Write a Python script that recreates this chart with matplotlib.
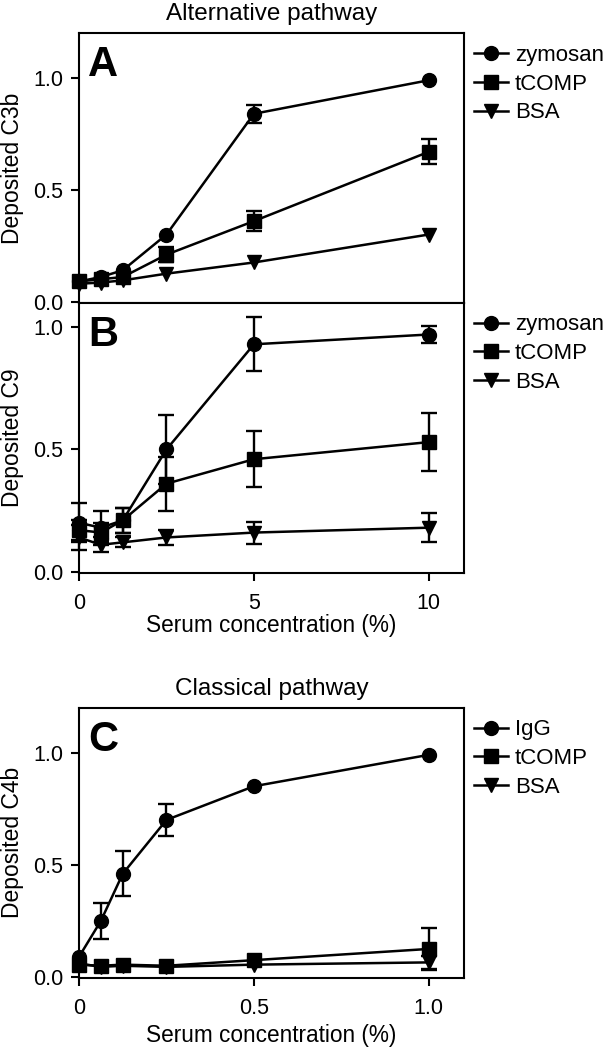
import numpy as np
import matplotlib
matplotlib.use('Agg')
import matplotlib.pyplot as plt

plt.rcParams['font.family'] = ['Liberation Sans', 'DejaVu Sans']

# serum concentrations (%)
conc_alt = [0, 0.625, 1.25, 2.5, 5, 10]
conc_cls = [0, 0.0625, 0.125, 0.25, 0.5, 1.0]

# A: deposited C3b, alternative pathway
zym_c3b = [0.09, 0.11, 0.14, 0.30, 0.84, 0.99]
zym_c3b_err = [0, 0, 0, 0, 0.04, 0]
tcomp_c3b = [0.09, 0.10, 0.11, 0.21, 0.36, 0.67]
tcomp_c3b_err = [0, 0, 0, 0.035, 0.045, 0.055]
bsa_c3b = [0.08, 0.085, 0.095, 0.125, 0.175, 0.30]
bsa_c3b_err = [0, 0, 0, 0, 0, 0]

# B: deposited C9, alternative pathway
zym_c9 = [0.20, 0.18, 0.21, 0.50, 0.93, 0.97]
zym_c9_err = [0.08, 0.07, 0.05, 0.14, 0.11, 0.035]
tcomp_c9 = [0.17, 0.16, 0.21, 0.36, 0.46, 0.53]
tcomp_c9_err = [0.04, 0.04, 0.05, 0.11, 0.115, 0.12]
bsa_c9 = [0.14, 0.11, 0.12, 0.14, 0.16, 0.18]
bsa_c9_err = [0.05, 0.03, 0.02, 0.03, 0.045, 0.06]

# C: deposited C4b, classical pathway
igg_c4b = [0.09, 0.25, 0.46, 0.70, 0.85, 0.99]
igg_c4b_err = [0, 0.08, 0.10, 0.07, 0, 0]
tcomp_c4b = [0.055, 0.05, 0.055, 0.05, 0.075, 0.125]
tcomp_c4b_err = [0, 0, 0, 0, 0, 0.095]
bsa_c4b = [0.06, 0.045, 0.05, 0.045, 0.055, 0.065]
bsa_c4b_err = [0, 0, 0, 0, 0, 0.03]

markers = ['o', 's', 'v']


def draw_series(ax, x, y, err, marker, label):
    x = np.array(x)
    y = np.array(y)
    err = np.array(err)
    m = err > 0
    if m.any():
        ax.errorbar(x[m], y[m], yerr=err[m], fmt='none', ecolor='black',
                    elinewidth=1.7, capsize=5.5, capthick=1.7, clip_on=False, zorder=2)
    ax.plot(x, y, '-', color='black', lw=1.8, marker=marker, ms=10,
            mfc='black', mec='black', label=label, clip_on=False, zorder=3)


def style_axes(ax, ylabel, letter, ylim):
    for s in ax.spines.values():
        s.set_linewidth(1.5)
    ax.set_ylim(*ylim)
    ax.set_yticks([0, 0.5, 1.0])
    ax.set_yticklabels(['0.0', '0.5', '1.0'])
    ax.tick_params(axis='both', direction='out', length=5.5, width=1.5, labelsize=15.5)
    ax.tick_params(axis='y', pad=6)
    ax.tick_params(axis='x', pad=9)
    ax.set_ylabel(ylabel, fontsize=16.5)
    ax.yaxis.set_label_coords(-0.143, 0.5)
    ax.text(0.023, 0.84, letter, transform=ax.transAxes, fontsize=30,
            fontweight='bold', ha='left', va='baseline')
    ax.legend(loc='upper left', bbox_to_anchor=(1.026, 0.957), frameon=False,
              fontsize=16, handlelength=1.55, handletextpad=0.3, labelspacing=0.35,
              borderpad=0, borderaxespad=0)


fig = plt.figure(figsize=(6.06, 10.5), dpi=100)
axA = fig.add_axes([0.1304, 0.7117, 0.635, 0.2566])
axB = fig.add_axes([0.1304, 0.4546, 0.635, 0.2571])
axC = fig.add_axes([0.1304, 0.0689, 0.635, 0.2571])

# panel A
draw_series(axA, conc_alt, zym_c3b, zym_c3b_err, markers[0], 'zymosan')
draw_series(axA, conc_alt, tcomp_c3b, tcomp_c3b_err, markers[1], 'tCOMP')
draw_series(axA, conc_alt, bsa_c3b, bsa_c3b_err, markers[2], 'BSA')
axA.set_xlim(0, 11)
style_axes(axA, 'Deposited C3b', 'A', (-0.005, 1.2))
axA.tick_params(axis='x', bottom=False, labelbottom=False)
axA.set_title('Alternative pathway', fontsize=17.5, pad=9.5)

# panel B
draw_series(axB, conc_alt, zym_c9, zym_c9_err, markers[0], 'zymosan')
draw_series(axB, conc_alt, tcomp_c9, tcomp_c9_err, markers[1], 'tCOMP')
draw_series(axB, conc_alt, bsa_c9, bsa_c9_err, markers[2], 'BSA')
axB.set_xlim(0, 11)
axB.set_xticks([0, 5, 10])
axB.set_xticklabels(['0', '5', '10'])
style_axes(axB, 'Deposited C9', 'B', (-0.004, 1.1))
axB.set_xlabel('Serum concentration (%)', fontsize=16.3, labelpad=0)

# panel C
draw_series(axC, conc_cls, igg_c4b, igg_c4b_err, markers[0], 'IgG')
draw_series(axC, conc_cls, tcomp_c4b, tcomp_c4b_err, markers[1], 'tCOMP')
draw_series(axC, conc_cls, bsa_c4b, bsa_c4b_err, markers[2], 'BSA')
axC.set_xlim(0, 1.1)
axC.set_xticks([0, 0.5, 1.0])
axC.set_xticklabels(['0', '0.5', '1.0'])
style_axes(axC, 'Deposited C4b', 'C', (-0.003, 1.2))
axC.set_xlabel('Serum concentration (%)', fontsize=16.3, labelpad=4)
axC.set_title('Classical pathway', fontsize=17.5, pad=9.5)

fig.savefig('out.png', dpi=100)
